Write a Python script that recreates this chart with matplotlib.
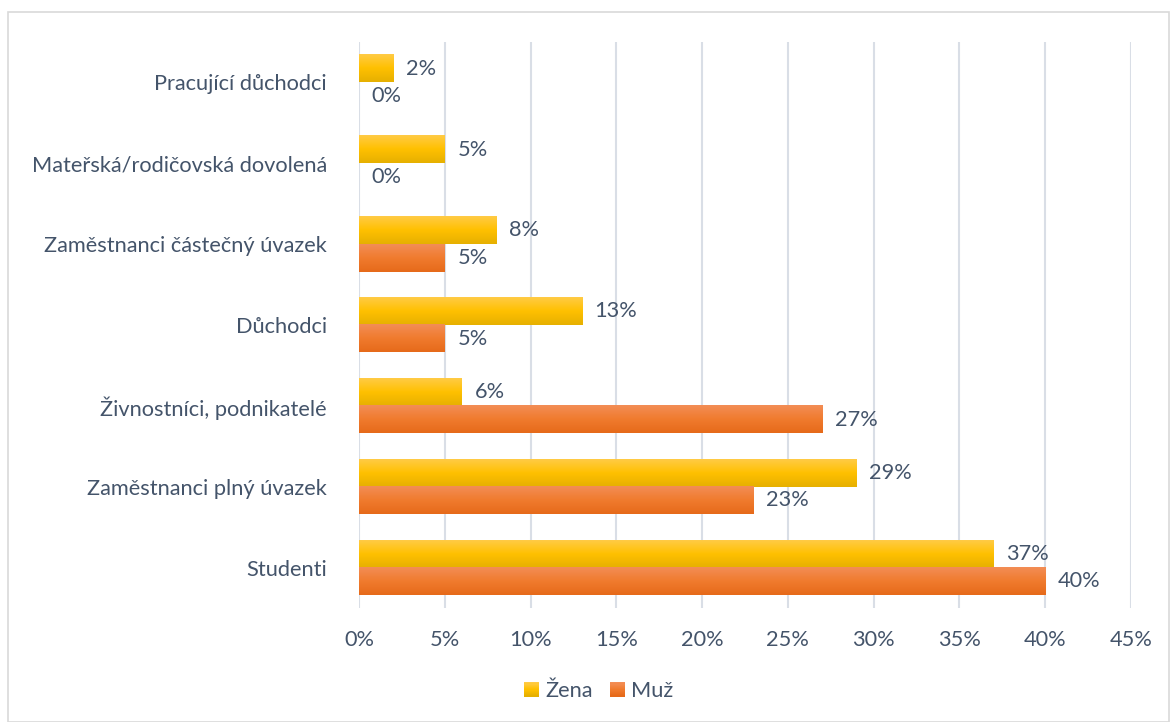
import numpy as np
import matplotlib
matplotlib.use("Agg")
import matplotlib.pyplot as plt
from matplotlib.patches import Rectangle
from matplotlib.legend_handler import HandlerBase
from matplotlib.colors import LinearSegmentedColormap

plt.rcParams['font.family'] = ['Lato', 'DejaVu Sans']

# Categories listed bottom to top
categories = [
    "Studenti",
    "Zaměstnanci plný úvazek",
    "Živnostníci, podnikatelé",
    "Důchodci",
    "Zaměstnanci částečný úvazek",
    "Mateřská/rodičovská dovolená",
    "Pracující důchodci",
]
zena = [37, 29, 6, 13, 8, 5, 2]
muz = [40, 23, 27, 5, 5, 0, 0]
series_names = ["Žena", "Muž"]
x_ticks = [0, 5, 10, 15, 20, 25, 30, 35, 40, 45]

TEXT = "#44546A"
GRID = "#D9DEE6"
FS = 15.7
yellow_cmap = LinearSegmentedColormap.from_list(
    "yel", [(0, "#E6B000"), (0.5, "#FFC000"), (1, "#FFCB45")])
orange_cmap = LinearSegmentedColormap.from_list(
    "ora", [(0, "#E66A1A"), (0.5, "#F07B2E"), (1, "#F38D55")])

fig = plt.figure(figsize=(11.7, 7.22), dpi=100)
W, H = 1170, 722
ax = fig.add_axes([359 / W, 1 - 608 / H, (1131 - 359) / W, (608 - 42) / H])

# chart frame
fig.patches.append(Rectangle((8 / W, 0.0), (1169 - 8) / W, 1 - 12 / H,
                             transform=fig.transFigure, fill=False,
                             edgecolor="#D9D9D9", linewidth=1.2))

y = np.arange(len(categories))
h = 0.34
grad = np.linspace(0, 1, 64).reshape(-1, 1)


def gradient_bars(bars, cmap):
    for b in bars:
        x0, y0, w, hh = b.get_x(), b.get_y(), b.get_width(), b.get_height()
        b.set_visible(False)
        if w <= 0:
            continue
        ax.imshow(grad, cmap=cmap, aspect="auto", origin="lower",
                  extent=[x0, x0 + w, y0, y0 + hh], zorder=3,
                  interpolation="bilinear")


bz = ax.barh(y + h / 2, zena, height=h, color="#FFC000", zorder=3)
bm = ax.barh(y - h / 2, muz, height=h, color="#ED7D31", zorder=3)
gradient_bars(bz, yellow_cmap)
gradient_bars(bm, orange_cmap)

for vals, off in ((zena, h / 2), (muz, -h / 2)):
    for yi, v in zip(y, vals):
        ax.annotate(f"{v}%", (v, yi + off), xytext=(9, 0),
                    textcoords="offset points", va="center", ha="left",
                    fontsize=FS, color=TEXT)

ax.set_xlim(0, 45)
ax.set_ylim(-0.5, len(categories) - 0.5)
ax.set_xticks(x_ticks)
ax.set_xticklabels([f"{t}%" for t in x_ticks])
ax.set_yticks(y)
ax.set_yticklabels(categories)
ax.tick_params(axis="both", length=0, labelsize=FS, colors=TEXT)
ax.tick_params(axis="x", pad=16)
ax.tick_params(axis="y", pad=23)
for s in ax.spines.values():
    s.set_visible(False)
ax.grid(axis="x", color=GRID, linewidth=1.5, zorder=0)
ax.set_axisbelow(True)


class GradientHandler(HandlerBase):
    def __init__(self, cmap):
        super().__init__()
        self.cmap = cmap

    def create_artists(self, legend, orig_handle, xdescent, ydescent,
                       width, height, fontsize, trans):
        side = height * 0.95
        x0 = -xdescent + width - side
        y0 = -ydescent + (height - side) / 2
        n = 12
        arts = []
        for i in range(n):
            c = self.cmap(i / (n - 1))
            arts.append(Rectangle((x0, y0 + side * i / n), side, side / n + 0.3,
                                  facecolor=c, edgecolor="none",
                                  transform=trans))
        return arts


hz = Rectangle((0, 0), 1, 1)
hm = Rectangle((0, 0), 1, 1)
fig.legend([hz, hm], series_names, loc="center",
           bbox_to_anchor=(598 / W, 1 - 691 / H), ncol=2, frameon=False,
           fontsize=FS, labelcolor=TEXT, handlelength=0.75,
           handletextpad=0.3, columnspacing=0.7,
           handler_map={hz: GradientHandler(yellow_cmap),
                        hm: GradientHandler(orange_cmap)})

fig.savefig("out.png", dpi=100, facecolor="white")
